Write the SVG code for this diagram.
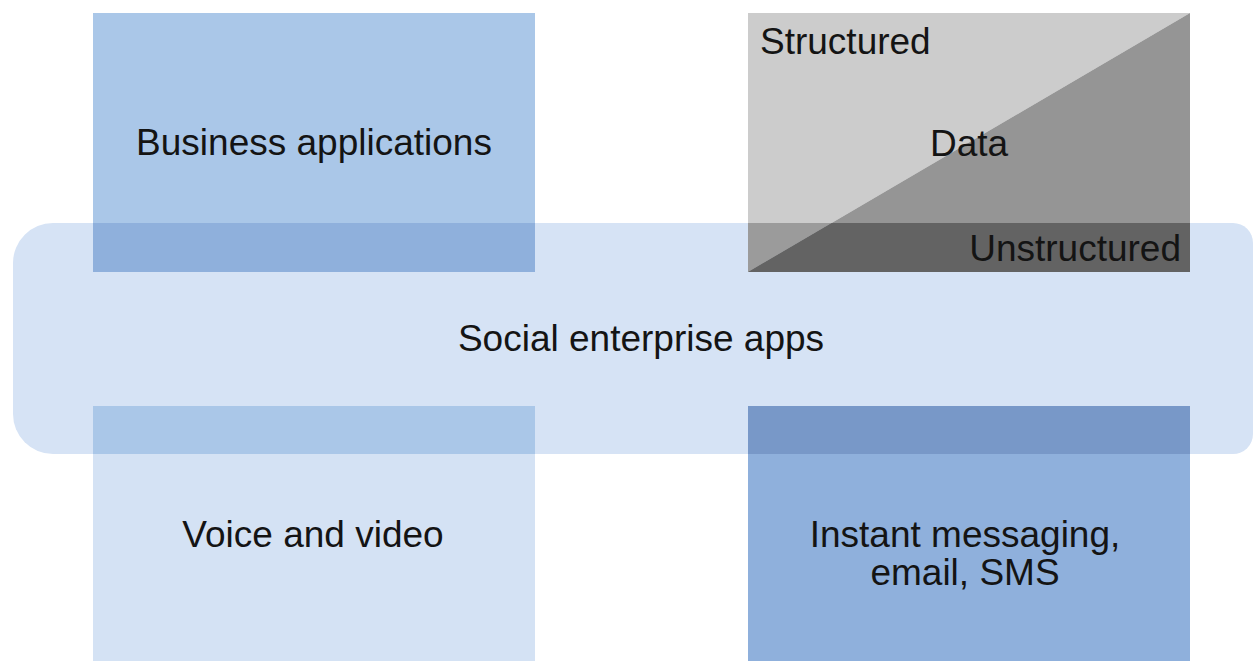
<svg xmlns="http://www.w3.org/2000/svg" width="1253" height="661" viewBox="0 0 1253 661">
<style>
text{font-family:"Liberation Sans","Noto Sans",Arial,sans-serif;font-size:37px;fill:#141414}
.c{text-anchor:middle}
</style>
<rect width="1253" height="661" fill="#ffffff"/>
<g id="band">
<path d="M53,223 H1233 A20,20 0 0 1 1253,243 V434 A20,20 0 0 1 1233,454 H53 A40,40 0 0 1 13,414 V263 A40,40 0 0 1 53,223 Z" fill="#d6e3f5"/>
</g>
<g id="business">
<rect x="93" y="13" width="442" height="210" fill="#aac7e8"/>
<rect x="93" y="223" width="442" height="49" fill="#8fb0dc"/>
<text class="c" x="314" y="155">Business applications</text>
</g>
<g id="data">
<polygon points="748,13 1190,13 748,272" fill="#cccccc"/>
<polygon points="1190,13 1190,272 748,272" fill="#959595"/>
<polygon points="748,223 831.6,223 748,272" fill="#9b9b9b"/>
<polygon points="831.6,223 1190,223 1190,272 748,272" fill="#636363"/>
<text x="760" y="54">Structured</text>
<text class="c" x="969" y="156">Data</text>
<text x="1181" y="261" text-anchor="end">Unstructured</text>
</g>
<g id="voice">
<rect x="93" y="406" width="442" height="48" fill="#aac7e8"/>
<rect x="93" y="454" width="442" height="207" fill="#d4e2f4"/>
<text class="c" x="313" y="547">Voice and video</text>
</g>
<g id="messaging">
<rect x="748" y="406" width="442" height="48" fill="#7898c8"/>
<rect x="748" y="454" width="442" height="207" fill="#8fb0dc"/>
<text class="c" x="965" y="547">Instant messaging,</text>
<text class="c" x="965" y="585">email, SMS</text>
</g>
<g id="band-label">
<text class="c" x="641" y="351">Social enterprise apps</text>
</g>
<g id="connectors"></g>
</svg>
